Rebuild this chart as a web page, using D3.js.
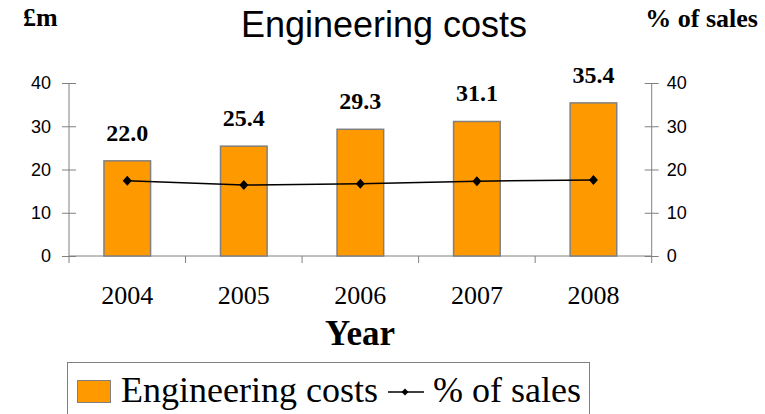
<!DOCTYPE html>
<html>
<head>
<meta charset="utf-8">
<script src="https://cdn.jsdelivr.net/npm/d3@7"></script>
<style>
  body { margin: 0; background: #fff; }
  svg { display: block; }
</style>
</head>
<body>
<svg id="chart" width="765" height="414"></svg>
<script>
// data
var years = ['2004', '2005', '2006', '2007', '2008']
var costs = [22.0, 25.4, 29.3, 31.1, 35.4]
var pctSales = [17.4, 16.4, 16.7, 17.3, 17.6]
var yTicks = [0, 10, 20, 30, 40]

var serif = '"Liberation Serif", "Times New Roman", serif'
var sans = '"Liberation Sans", Arial, sans-serif'
var orange = '#ff9900'
var grey = '#808080'

var svg = d3.select('#chart')

// plot box (window.top is read-only, so no bare "top" here)
var plotL = 69, plotR = 651.7, plotT = 83, plotB = 256

var x = d3.scaleBand().domain(years).range([plotL, plotR])
  .paddingInner(0.6).paddingOuter(0.3)
var y = d3.scaleLinear().domain([0, 40]).range([plotB, plotT])
var y2 = d3.scaleLinear().domain([0, 40]).range([plotB, plotT])

// title and axis captions
svg.append('text').attr('x', 384).attr('y', 37)
  .attr('text-anchor', 'middle').attr('font-family', sans).attr('font-size', 36)
  .text('Engineering costs')
svg.append('text').attr('x', 23).attr('y', 26)
  .attr('font-family', serif).attr('font-weight', 'bold').attr('font-size', 26)
  .text('£m')
svg.append('text').attr('x', 758).attr('y', 27)
  .attr('text-anchor', 'end').attr('font-family', serif).attr('font-weight', 'bold').attr('font-size', 26)
  .text('% of sales')

// left axis
var gl = svg.append('g').attr('transform', 'translate(' + plotL + ',0)')
  .call(d3.axisLeft(y).tickValues(yTicks).tickSize(7).tickPadding(11))
gl.select('.domain').remove()
gl.selectAll('.tick line').attr('x1', 7).attr('stroke', grey)
gl.selectAll('.tick text').attr('font-family', sans).attr('font-size', 18).attr('fill', '#000')
gl.append('line').attr('y1', plotT).attr('y2', plotB + 7).attr('stroke', grey)

// right axis
var gr = svg.append('g').attr('transform', 'translate(' + plotR + ',0)')
  .call(d3.axisRight(y2).tickValues(yTicks).tickSize(7).tickPadding(8))
gr.select('.domain').remove()
gr.selectAll('.tick line').attr('x1', -7).attr('stroke', grey)
gr.selectAll('.tick text').attr('font-family', sans).attr('font-size', 18).attr('fill', '#000')
gr.append('line').attr('y1', plotT).attr('y2', plotB + 7).attr('stroke', grey)

// category axis
svg.append('line').attr('x1', plotL).attr('x2', plotR)
  .attr('y1', plotB).attr('y2', plotB).attr('stroke', grey)
svg.selectAll('.cat-tick').data(d3.range(1, years.length))
  .join('line').attr('class', 'cat-tick')
  .attr('x1', function (i) { return plotL + i * x.step() })
  .attr('x2', function (i) { return plotL + i * x.step() })
  .attr('y1', plotB).attr('y2', plotB + 7).attr('stroke', grey)
svg.selectAll('.cat-label').data(years)
  .join('text').attr('class', 'cat-label')
  .attr('x', function (d) { return x(d) + x.bandwidth() / 2 })
  .attr('y', plotB + 48)
  .attr('text-anchor', 'middle').attr('font-family', serif).attr('font-size', 26)
  .text(function (d) { return d })
svg.append('text').attr('x', 360).attr('y', 345)
  .attr('text-anchor', 'middle').attr('font-family', serif).attr('font-weight', 'bold').attr('font-size', 35)
  .text('Year')

// bars
svg.selectAll('.bar').data(costs)
  .join('rect').attr('class', 'bar')
  .attr('x', function (d, i) { return x(years[i]) })
  .attr('y', function (d) { return y(d) })
  .attr('width', x.bandwidth())
  .attr('height', function (d) { return plotB - y(d) })
  .attr('fill', orange).attr('stroke', grey).attr('stroke-width', 1.5)

svg.selectAll('.val').data(costs)
  .join('text').attr('class', 'val')
  .attr('x', function (d, i) { return x(years[i]) + x.bandwidth() / 2 })
  .attr('y', function (d) { return y(d) - 20 })
  .attr('text-anchor', 'middle').attr('font-family', serif).attr('font-weight', 'bold').attr('font-size', 24)
  .text(function (d) { return d.toFixed(1) })

// % of sales line
var line = d3.line()
  .x(function (d, i) { return x(years[i]) + x.bandwidth() / 2 })
  .y(function (d) { return y2(d) })
svg.append('path').datum(pctSales).attr('d', line)
  .attr('fill', 'none').attr('stroke', '#000').attr('stroke-width', 1.5)

function diamond(w, h) {
  return 'M0,' + (-h / 2) + 'L' + (w / 2) + ',0L0,' + (h / 2) + 'L' + (-w / 2) + ',0Z'
}
svg.selectAll('.pt').data(pctSales)
  .join('path').attr('class', 'pt')
  .attr('transform', function (d, i) {
    return 'translate(' + (x(years[i]) + x.bandwidth() / 2) + ',' + y2(d) + ')'
  })
  .attr('d', diamond(9, 10)).attr('fill', '#000')

// legend
var lg = svg.append('g')
lg.append('rect').attr('x', 67.5).attr('y', 362.5).attr('width', 522).attr('height', 70)
  .attr('fill', '#fff').attr('stroke', grey)
lg.append('rect').attr('x', 77.5).attr('y', 380.5).attr('width', 33).attr('height', 22)
  .attr('fill', orange).attr('stroke', grey)
lg.append('text').attr('x', 121).attr('y', 402)
  .attr('font-family', serif).attr('font-size', 36).text('Engineering costs')
lg.append('line').attr('x1', 388).attr('x2', 424).attr('y1', 392).attr('y2', 392)
  .attr('stroke', '#000').attr('stroke-width', 1.5)
lg.append('path').attr('transform', 'translate(405,392)').attr('d', diamond(7, 7)).attr('fill', '#000')
lg.append('text').attr('x', 433).attr('y', 402)
  .attr('font-family', serif).attr('font-size', 36).text('% of sales')
</script>
</body>
</html>
